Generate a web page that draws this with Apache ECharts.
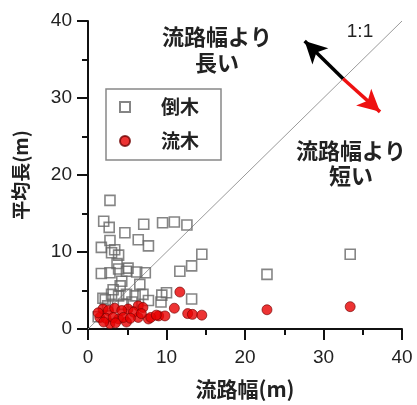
<!DOCTYPE html>
<html>
<head>
<meta charset="utf-8">
<script src="https://cdn.jsdelivr.net/npm/echarts@6/dist/echarts.min.js"></script>
<style>html,body{margin:0;padding:0;background:#fff}#c{width:417px;height:405px}</style>
</head>
<body>
<div id="c"></div>
<script>
// 倒木 (fallen trees): [流路幅 m, 平均長 m]
var fallenTrees = [
  [2.8,16.7],[2.0,14.0],[2.7,13.2],[4.7,12.5],[7.1,13.6],[9.5,13.8],[11.0,13.9],[12.6,13.5],
  [6.4,11.6],[7.7,10.8],[1.7,10.6],[2.8,11.5],[3.4,10.3],[3.9,9.6],[3.0,9.9],
  [14.5,9.7],[13.2,8.2],[11.7,7.5],[22.8,7.1],[33.4,9.7],
  [3.7,8.5],[1.7,7.2],[2.8,7.3],[3.9,7.8],[4.9,7.5],[6.2,7.4],[7.3,7.3],[5.1,7.9],
  [4.3,6.2],[6.6,5.8],[4.1,5.6],[3.2,5.1],[3.0,4.5],[1.9,4.0],[3.9,4.3],[4.9,4.5],[6.0,4.3],[7.0,4.5],
  [5.6,3.5],[7.7,3.7],[9.4,4.4],[10.0,4.7],[9.3,3.5],[13.2,3.9],[2.2,3.8],[1.3,1.6],[2.5,3.0],[4.5,3.2]
];
// 流木 (driftwood)
var driftwood = [
  [1.5,1.5],[1.9,2.6],[2.8,0.7],[2.6,2.4],[3.9,1.3],[4.9,0.9],[5.1,2.6],[6.4,3.0],[7.0,2.8],
  [6.4,1.5],[7.7,1.3],[9.0,1.7],[9.8,1.7],[11.0,2.7],[11.7,4.8],[12.7,2.0],[13.3,1.9],[14.5,1.8],
  [3.4,2.7],[4.3,2.4],[5.8,2.2],[2.3,1.4],[3.2,1.5],[4.5,1.5],[5.4,1.4],[8.0,1.5],
  [22.8,2.5],[33.4,2.9],[1.3,2.1],[2.0,0.9],[3.5,0.8],[6.8,2.0],[8.7,1.8]
];
var oneToOne = [[0,0],[40,40]];
var xTicks = [0, 40, 10];   // min, max, interval
var yTicks = [0, 40, 10];
var seriesNames = ['倒木', '流木'];

var cjk = '"Noto Sans CJK JP", "Noto Sans", sans-serif';
var num = '"Liberation Sans", Arial, sans-serif';

var chart = echarts.init(document.getElementById('c'), null, {renderer: 'canvas'});
chart.setOption({
  animation: false,
  grid: {left: 88, right: 15, top: 21, bottom: 73, containLabel: false},
  xAxis: {
    type: 'value', min: xTicks[0], max: xTicks[1], interval: xTicks[2],
    name: '流路幅(m)', nameLocation: 'middle', nameGap: 50,
    nameTextStyle: {fontFamily: cjk, fontSize: 21, fontWeight: 'bold', color: '#222'},
    axisLine: {show: true, onZero: false, lineStyle: {color: '#111', width: 2}},
    axisTick: {show: true, length: 11, lineStyle: {color: '#111', width: 2}},
    minorTick: {show: true, splitNumber: 2, length: 6, lineStyle: {color: '#111', width: 2}},
    axisLabel: {fontFamily: num, fontSize: 19, color: '#222', margin: 19},
    splitLine: {show: false}
  },
  yAxis: {
    type: 'value', min: yTicks[0], max: yTicks[1], interval: yTicks[2],
    name: '平均長(m)', nameLocation: 'middle', nameGap: 58, nameRotate: 90,
    nameTextStyle: {fontFamily: cjk, fontSize: 19, fontWeight: 'bold', color: '#222'},
    axisLine: {show: true, onZero: false, lineStyle: {color: '#111', width: 2}},
    axisTick: {show: true, length: 11, lineStyle: {color: '#111', width: 2}},
    minorTick: {show: true, splitNumber: 2, length: 6, lineStyle: {color: '#111', width: 2}},
    axisLabel: {fontFamily: num, fontSize: 19, color: '#222', margin: 16},
    splitLine: {show: false}
  },
  legend: {
    orient: 'vertical', left: 106, top: 89,
    data: [{name: seriesNames[0], icon: 'rect'}, {name: seriesNames[1], icon: 'circle'}],
    borderColor: '#888', borderWidth: 1.5,
    padding: [8, 22, 9, 13],
    itemWidth: 10, itemHeight: 10, itemGap: 14,
    textStyle: {fontFamily: cjk, fontSize: 19, fontWeight: 'bold', color: '#222', lineHeight: 20, padding: [0, 0, 0, 26]},
    selectedMode: false
  },
  series: [
    {
      type: 'line', data: oneToOne, symbol: 'none', silent: true, z: 1,
      lineStyle: {color: '#9a9a9a', width: 1},
      markLine: {
        silent: true, symbol: ['none', 'arrow'], symbolSize: [17, 22],
        label: {show: false},
        data: [
          [{coord: [32.5, 32.5], lineStyle: {color: '#000', width: 3.5, type: 'solid'}, itemStyle: {color: '#000'}},
           {coord: [27.6, 37.4]}],
          [{coord: [32.5, 32.5], lineStyle: {color: '#ee1111', width: 3.5, type: 'solid'}, itemStyle: {color: '#ee1111'}},
           {coord: [37.2, 28.2]}]
        ]
      }
    },
    {
      name: seriesNames[0], type: 'scatter', data: fallenTrees, symbol: 'rect', symbolSize: 10, z: 2,
      itemStyle: {color: 'rgba(255,255,255,0)', borderColor: '#666', borderWidth: 1.6}
    },
    {
      name: seriesNames[1], type: 'scatter', data: driftwood, symbol: 'circle', symbolSize: 10, z: 3,
      itemStyle: {color: '#e80000', borderColor: '#700000', borderWidth: 0.8}
    }
  ],
  graphic: [
    {type: 'text', x: 217, y: 50, z: 10, style: {text: '流路幅より\n長い', align: 'center', verticalAlign: 'middle', fontFamily: cjk, fontSize: 22, fontWeight: 'bold', lineHeight: 26, fill: '#222'}},
    {type: 'text', x: 351, y: 163, z: 10, style: {text: '流路幅より\n短い', align: 'center', verticalAlign: 'middle', fontFamily: cjk, fontSize: 22, fontWeight: 'bold', lineHeight: 25, fill: '#222'}},
    {type: 'text', x: 360, y: 32, z: 10, style: {text: '1:1', align: 'center', verticalAlign: 'middle', fontFamily: num, fontSize: 19, fill: '#222'}}
  ]
});
</script>
</body>
</html>
